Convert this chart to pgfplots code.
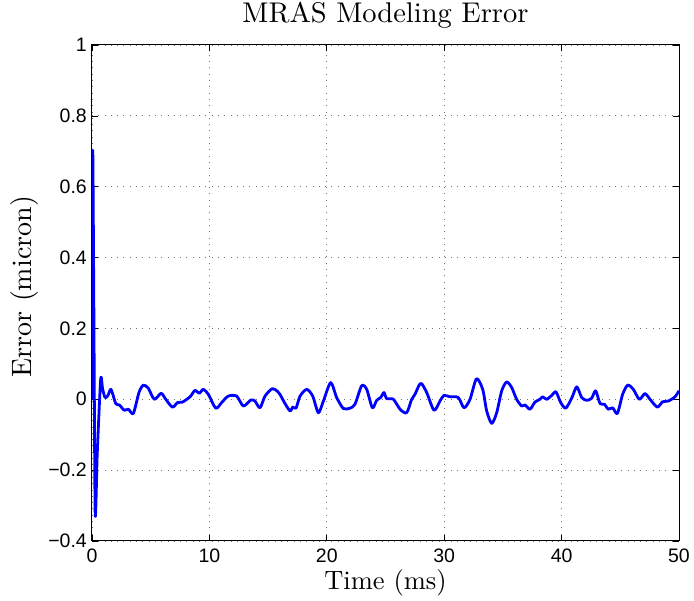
\documentclass[border=0pt]{standalone}
\usepackage{fontspec}
\setsansfont{Liberation Sans}
\newfontfamily\lmten{lmroman10-regular}[Extension=.otf]
\usepackage{pgfplots}
\pgfplotsset{compat=1.18}
\begin{document}
\begin{tikzpicture}
\begin{axis}[
  at={(0,0)}, anchor=south west,
  scale only axis, width=587pt, height=496pt,
  xmin=0, xmax=50, ymin=-0.4, ymax=1,
  xtick={0,10,20,30,40,50},
  ytick={-0.4,-0.2,0,0.2,0.4,0.6,0.8,1},
  yticklabels={−0.4,−0.2,0,0.2,0.4,0.6,0.8,1},
  /pgf/number format/assume math mode=true,
  tick label style={font=\fontsize{19.5}{21}\selectfont\sffamily, inner sep=0pt},
  xticklabel style={anchor=base, yshift=-22pt},
  yticklabel style={anchor=east, xshift=-5pt},
  tick align=inside, major tick length=6pt,
  tick style={black, line width=0.6pt},
  xtick pos=both, ytick pos=both,
  axis line style={black, line width=1pt},
  grid=major,
  major grid style={black!55, dash pattern=on 1pt off 5.3pt, line width=0.8pt},
  title={MRAS Modeling Error},
  title style={font=\fontsize{28.5}{30}\lmten, at={(axis description cs:0.5,1.0337)}, anchor=base, inner sep=0pt},
  xlabel={Time (ms)},
  ylabel={Error (micron)},
  xlabel style={font=\fontsize{26.5}{30}\lmten, at={(axis description cs:0.5,-0.0988)}, anchor=base, inner sep=0pt},
  ylabel style={font=\fontsize{28}{30}\lmten, at={(axis description cs:-0.1027,0.5127)}, anchor=base, inner sep=0pt},
]
\addplot[blue, line width=2.8pt, smooth, tension=0.45, line join=round] coordinates {
(0,0) (0.06,0.70) (0.15,0.3) (0.27,-0.32) (0.45,-0.15) (0.74,0.056) (0.9,0.03) (1.11,0.005) (1.35,0.01) (1.62,0.028) (2.02,-0.012) (2.33,-0.016) (2.75,-0.031) (3.1,-0.028) (3.52,-0.040) (4.0,0.019) (4.37,0.040) (4.8,0.031) (5.31,0.0) (5.88,0.017) (6.22,0.003) (6.84,-0.022) (7.3,-0.009) (7.7,-0.008) (8.35,0.007) (8.77,0.025) (9.14,0.017) (9.48,0.028) (9.91,0.014) (10.54,-0.025) (11.05,-0.009) (11.61,0.009) (12.32,0.009) (12.89,-0.019) (13.54,-0.002) (13.88,-0.005) (14.31,-0.024) (14.74,0.009) (15.36,0.030) (15.81,0.022) (16.01,0.014) (16.44,-0.012) (16.87,-0.033) (17.1,-0.022) (17.38,-0.025) (17.72,0.009) (18.29,0.028) (18.8,0.009) (19.28,-0.038) (19.71,-0.005) (20.33,0.047) (20.84,0.005) (21.41,-0.026) (21.98,-0.025) (22.4,-0.014) (22.97,0.038) (23.4,0.028) (23.88,-0.024) (24.25,-0.003) (24.59,0.005) (24.87,0.019) (25.1,0.002) (25.67,0.0) (26.24,-0.028) (26.8,-0.038) (27.23,0.0) (27.51,0.014) (28.0,0.045) (28.51,0.019) (29.13,-0.031) (29.64,-0.005) (29.98,0.011) (30.49,0.007) (31.2,0.005) (31.69,-0.024) (32.2,0.0) (32.75,0.058) (33.28,0.028) (33.62,-0.033) (34.05,-0.068) (34.47,-0.038) (34.9,0.024) (35.32,0.049) (35.75,0.033) (36.17,0.0) (36.6,-0.019) (36.88,-0.016) (37.31,-0.028) (37.73,-0.008) (38.16,0.0) (38.39,0.007) (38.73,0.0) (39.16,0.011) (39.52,0.021) (39.92,-0.009) (40.35,-0.025) (40.86,0.003) (41.29,0.035) (41.71,0.005) (42.14,-0.003) (42.56,0.003) (42.9,0.024) (43.27,-0.012) (43.64,-0.014) (43.98,-0.028) (44.35,-0.024) (44.75,-0.040) (45.2,0.014) (45.63,0.040) (46.11,0.028) (46.62,0.0) (47.1,0.016) (47.53,0.0) (48.15,-0.022) (48.61,-0.007) (49.09,-0.005) (49.66,0.007) (50,0.024)
};
\end{axis}
\pgfresetboundingbox
\path[use as bounding box] (-92pt,-60pt) rectangle (602pt,541pt);
\end{tikzpicture}
\end{document}
